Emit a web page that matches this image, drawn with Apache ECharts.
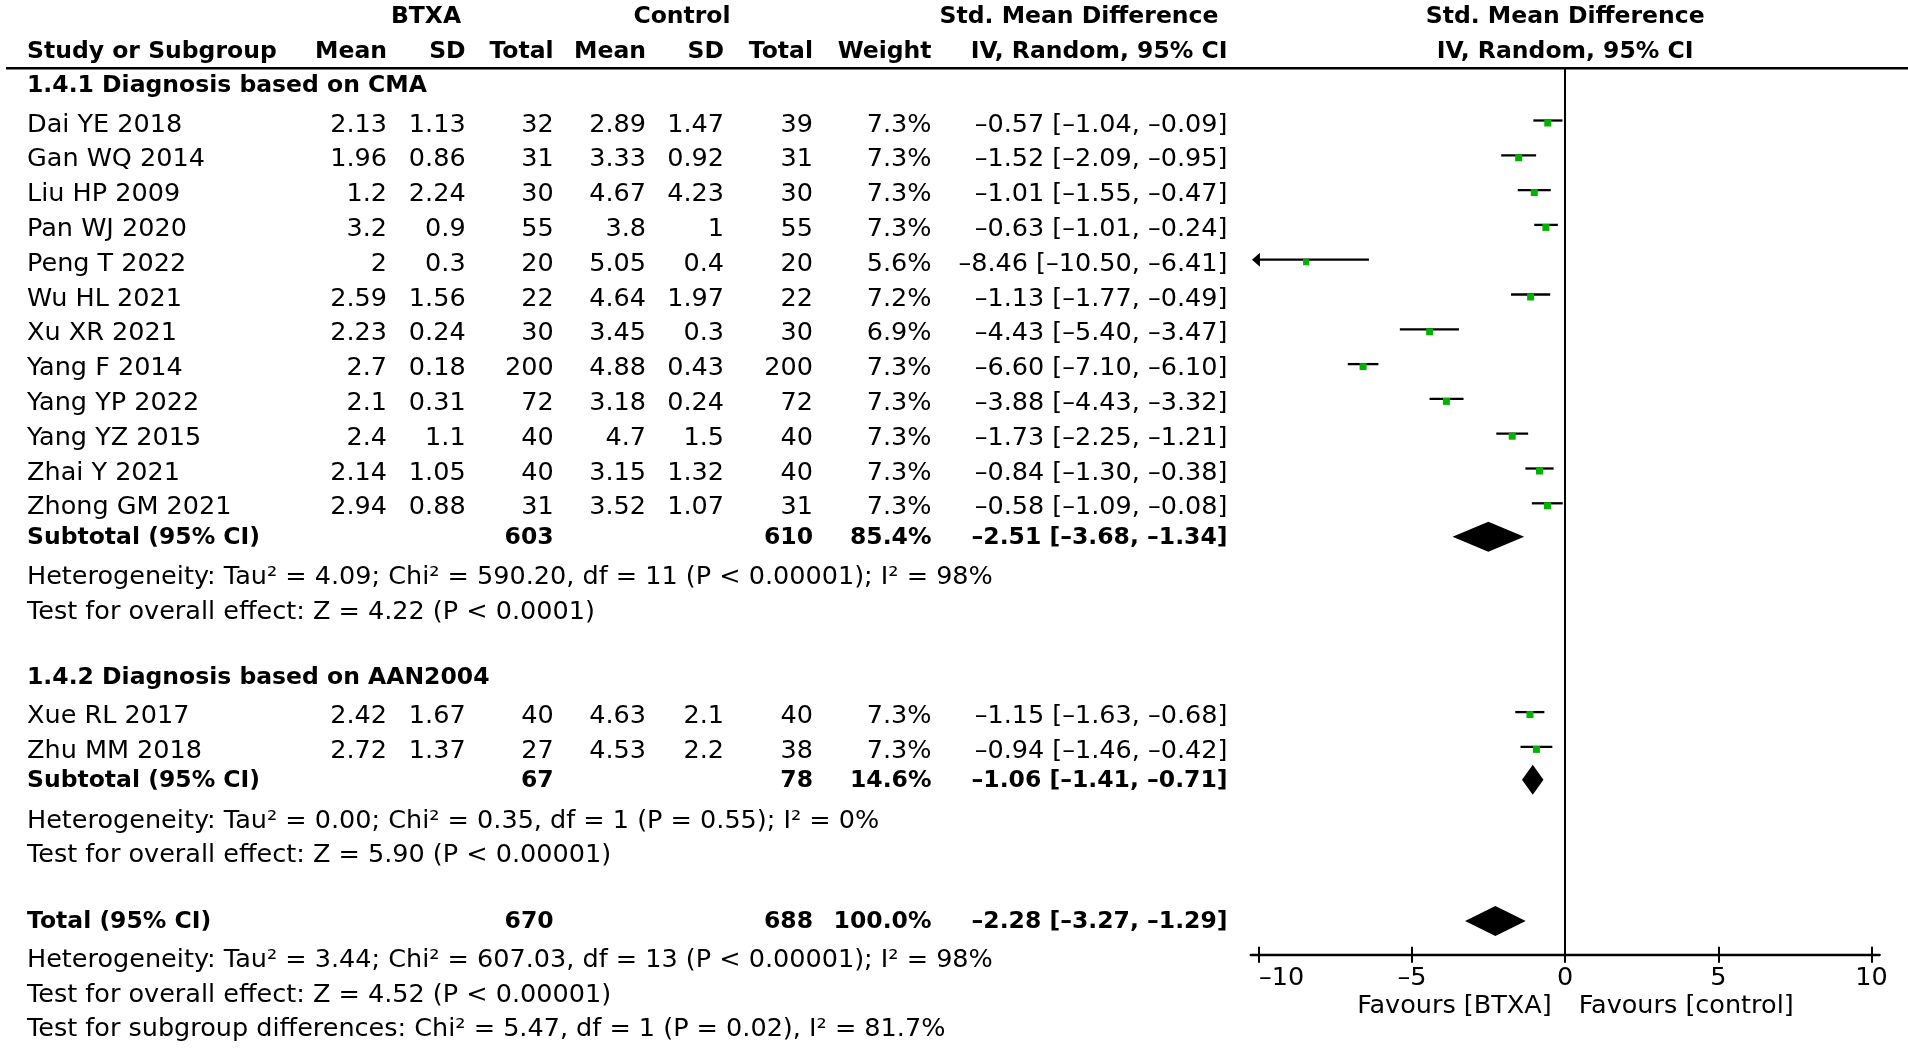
<!DOCTYPE html>
<html lang="en" style="height: 100%">
<head>
    <meta charset="utf-8" />
    <script src="https://cdn.jsdelivr.net/npm/echarts@6/dist/echarts.min.js"></script>
</head>
<body style="height: 100%; margin: 0; background: #fff">
    <div id="container" style="width: 1908px; height: 1049px;"></div>
    <script type="text/javascript">
        // ---- data ----
        const studies = ['Dai YE 2018', 'Gan WQ 2014', 'Liu HP 2009', 'Pan WJ 2020', 'Peng T 2022', 'Wu HL 2021',
            'Xu XR 2021', 'Yang F 2014', 'Yang YP 2022', 'Yang YZ 2015', 'Zhai Y 2021', 'Zhong GM 2021',
            'Xue RL 2017', 'Zhu MM 2018'];
        const btxaMean = [2.13, 1.96, 1.2, 3.2, 2, 2.59, 2.23, 2.7, 2.1, 2.4, 2.14, 2.94, 2.42, 2.72];
        const btxaSD = [1.13, 0.86, 2.24, 0.9, 0.3, 1.56, 0.24, 0.18, 0.31, 1.1, 1.05, 0.88, 1.67, 1.37];
        const btxaTotal = [32, 31, 30, 55, 20, 22, 30, 200, 72, 40, 40, 31, 40, 27];
        const ctrlMean = [2.89, 3.33, 4.67, 3.8, 5.05, 4.64, 3.45, 4.88, 3.18, 4.7, 3.15, 3.52, 4.63, 4.53];
        const ctrlSD = [1.47, 0.92, 4.23, 1, 0.4, 1.97, 0.3, 0.43, 0.24, 1.5, 1.32, 1.07, 2.1, 2.2];
        const ctrlTotal = [39, 31, 30, 55, 20, 22, 30, 200, 72, 40, 40, 31, 40, 38];
        const weight = [7.3, 7.3, 7.3, 7.3, 5.6, 7.2, 6.9, 7.3, 7.3, 7.3, 7.3, 7.3, 7.3, 7.3];
        const smd = [-0.57, -1.52, -1.01, -0.63, -8.46, -1.13, -4.43, -6.60, -3.88, -1.73, -0.84, -0.58, -1.15, -0.94];
        const ciLow = [-1.04, -2.09, -1.55, -1.01, -10.50, -1.77, -5.40, -7.10, -4.43, -2.25, -1.30, -1.09, -1.63, -1.46];
        const ciHigh = [-0.09, -0.95, -0.47, -0.24, -6.41, -0.49, -3.47, -6.10, -3.32, -1.21, -0.38, -0.08, -0.68, -0.42];

        const groupTitles = ['1.4.1 Diagnosis based on CMA', '1.4.2 Diagnosis based on AAN2004'];
        const subBtxaTotal = [603, 67];
        const subCtrlTotal = [610, 78];
        const subWeight = [85.4, 14.6];
        const subSmd = [-2.51, -1.06];
        const subLow = [-3.68, -1.41];
        const subHigh = [-1.34, -0.71];
        const subHet = ['Heterogeneity: Tau² = 4.09; Chi² = 590.20, df = 11 (P < 0.00001); I² = 98%',
            'Heterogeneity: Tau² = 0.00; Chi² = 0.35, df = 1 (P = 0.55); I² = 0%'];
        const subEffect = ['Test for overall effect: Z = 4.22 (P < 0.0001)',
            'Test for overall effect: Z = 5.90 (P < 0.00001)'];

        const total = { btxa: 670, ctrl: 688, weight: 100.0, smd: -2.28, low: -3.27, high: -1.29 };
        const totalNotes = ['Heterogeneity: Tau² = 3.44; Chi² = 607.03, df = 13 (P < 0.00001); I² = 98%',
            'Test for overall effect: Z = 4.52 (P < 0.00001)',
            'Test for subgroup differences: Chi² = 5.47, df = 1 (P = 0.02), I² = 81.7%'];

        const axisTicks = [-10, -5, 0, 5, 10];
        const favours = ['Favours [BTXA]', 'Favours [control]'];

        // ---- layout (pixels / row units) ----
        const ROW0 = 125, ROWH = 34.8;          // y of first study row, row pitch
        const HEADER_Y = 68.3, AXIS_Y = 954.3;
        const PLOT_L = 1250.7, PLOT_R = 1879.7;
        const COL = { name: 27, m1: 387, sd1: 465.6, n1: 553.6, m2: 646, sd2: 724, n2: 813, w: 931.5, ci: 1227.5 };
        const studyRows = [0, 1, 2, 3, 4, 5, 6, 7, 8, 9, 10, 11, 17, 18];
        const groupTitleRows = [-1.12, 15.88];
        const subRows = [11.86, 18.84];
        const hetRows = [13.0, 20.02];
        const effRows = [14.01, 21.0];
        const totalRow = 22.9;
        const totalNoteRows = [24.0, 25.0, 26.0];
        const headRows = [-3.11, -2.11];
        const favoursRow = 25.32;

        const FONT = '"DejaVu Sans"';
        const REG = '25.5px ' + FONT;
        const BOLD = 'bold 23.5px ' + FONT;
        const GREEN = '#00b300';

        const dash = s => s.replace(/-/g, '\u2013');
        const fmtCI = (m, l, h) => dash(m.toFixed(2) + ' [' + l.toFixed(2) + ', ' + h.toFixed(2) + ']');
        const pct = v => v.toFixed(1) + '%';

        // ---- text cells ----
        const cells = [];
        function cell(row, x, text, font, align, plotX) {
            cells.push({ row: row, x: x, text: String(text), font: font, align: align, plotX: plotX });
        }
        cell(headRows[0], 426, 'BTXA', BOLD, 'center');
        cell(headRows[0], 682, 'Control', BOLD, 'center');
        cell(headRows[0], 1079, 'Std. Mean Difference', BOLD, 'center');
        cell(headRows[0], 0, 'Std. Mean Difference', BOLD, 'center', 0);
        cell(headRows[1], COL.name, 'Study or Subgroup', BOLD, 'left');
        [['m1', 'Mean'], ['sd1', 'SD'], ['n1', 'Total'], ['m2', 'Mean'], ['sd2', 'SD'], ['n2', 'Total'],
            ['w', 'Weight'], ['ci', 'IV, Random, 95% CI']].forEach(function (c) {
            cell(headRows[1], COL[c[0]], c[1], BOLD, 'right');
        });
        cell(headRows[1], 0, 'IV, Random, 95% CI', BOLD, 'center', 0);

        groupTitles.forEach(function (t, g) {
            cell(groupTitleRows[g], COL.name, t, BOLD, 'left');
        });
        studies.forEach(function (s, i) {
            const r = studyRows[i];
            cell(r, COL.name, s, REG, 'left');
            cell(r, COL.m1, btxaMean[i], REG, 'right');
            cell(r, COL.sd1, btxaSD[i], REG, 'right');
            cell(r, COL.n1, btxaTotal[i], REG, 'right');
            cell(r, COL.m2, ctrlMean[i], REG, 'right');
            cell(r, COL.sd2, ctrlSD[i], REG, 'right');
            cell(r, COL.n2, ctrlTotal[i], REG, 'right');
            cell(r, COL.w, pct(weight[i]), REG, 'right');
            cell(r, COL.ci, fmtCI(smd[i], ciLow[i], ciHigh[i]), REG, 'right');
        });
        subRows.forEach(function (r, g) {
            cell(r, COL.name, 'Subtotal (95% CI)', BOLD, 'left');
            cell(r, COL.n1, subBtxaTotal[g], BOLD, 'right');
            cell(r, COL.n2, subCtrlTotal[g], BOLD, 'right');
            cell(r, COL.w, pct(subWeight[g]), BOLD, 'right');
            cell(r, COL.ci, fmtCI(subSmd[g], subLow[g], subHigh[g]), BOLD, 'right');
            cell(hetRows[g], COL.name, subHet[g], REG, 'left');
            cell(effRows[g], COL.name, subEffect[g], REG, 'left');
        });
        cell(totalRow, COL.name, 'Total (95% CI)', BOLD, 'left');
        cell(totalRow, COL.n1, total.btxa, BOLD, 'right');
        cell(totalRow, COL.n2, total.ctrl, BOLD, 'right');
        cell(totalRow, COL.w, pct(total.weight), BOLD, 'right');
        cell(totalRow, COL.ci, fmtCI(total.smd, total.low, total.high), BOLD, 'right');
        totalNotes.forEach(function (t, k) {
            cell(totalNoteRows[k], COL.name, t, REG, 'left');
        });
        cell(favoursRow, -13.5, favours[0], REG, 'right', 0);
        cell(favoursRow, 13.5, favours[1], REG, 'left', 0);

        // ---- chart ----
        var dom = document.getElementById('container');
        var myChart = echarts.init(dom, null, { renderer: 'canvas' });

        // axis line runs a little past the outer ticks
        const xMin = -10.27, xMax = 10.27;
        const yMin = (HEADER_Y - ROW0) / ROWH, yMax = (AXIS_Y - ROW0) / ROWH;

        const studyData = studies.map((s, i) => [smd[i], ciLow[i], ciHigh[i], studyRows[i], weight[i]]);
        const diamondData = subRows.map((r, g) => [subSmd[g], subLow[g], subHigh[g], r])
            .concat([[total.smd, total.low, total.high, totalRow]]);

        var option = {
            animation: false,
            backgroundColor: '#fff',
            grid: {
                left: PLOT_L, right: 1908 - PLOT_R, top: HEADER_Y, bottom: 1049 - AXIS_Y,
                containLabel: false, outerBoundsMode: 'none'
            },
            graphic: [{
                type: 'line',
                shape: { x1: 6, y1: HEADER_Y, x2: 1908, y2: HEADER_Y },
                style: { stroke: '#000', lineWidth: 2.5 },
                silent: true
            }],
            xAxis: [{
                type: 'value', min: xMin, max: xMax, position: 'bottom',
                axisLine: { show: true, onZero: false, lineStyle: { color: '#000', width: 2.3 } },
                axisTick: { show: true, inside: false, length: 8.5, customValues: axisTicks,
                    lineStyle: { color: '#000', width: 2 } },
                axisLabel: { show: true, customValues: axisTicks, margin: 11, color: '#000',
                    fontFamily: 'DejaVu Sans', fontSize: 25.5, alignMinLabel: 'left',
                    formatter: v => dash(String(v)) },
                splitLine: { show: false }
            }, {
                type: 'value', min: xMin, max: xMax, position: 'bottom',
                axisLine: { show: false, onZero: false },
                axisTick: { show: true, inside: true, length: 7.5, customValues: axisTicks,
                    lineStyle: { color: '#000', width: 2 } },
                axisLabel: { show: false },
                splitLine: { show: false }
            }],
            yAxis: {
                type: 'value', inverse: true, min: yMin, max: yMax,
                axisLine: { show: true, onZero: true, lineStyle: { color: '#000', width: 2 } },
                axisTick: { show: false },
                axisLabel: { show: false },
                splitLine: { show: false }
            },
            series: [{
                // individual studies: CI whisker + weighted square
                type: 'custom',
                clip: false,
                silent: true,
                data: studyData,
                renderItem: function (params, api) {
                    const y = api.coord([0, api.value(3)])[1];
                    const lo = api.value(1), hi = api.value(2);
                    const x0 = api.coord([Math.max(lo, -10), 0])[0];
                    const x1 = api.coord([Math.min(hi, 10), 0])[0];
                    const xc = api.coord([api.value(0), 0])[0];
                    const s = 7 * Math.sqrt(api.value(4) / 7.3);
                    const ly = y - 4.5;
                    const children = [{
                        type: 'line',
                        shape: { x1: x0, y1: ly, x2: x1, y2: ly },
                        style: { stroke: '#000', lineWidth: 2.3 }
                    }, {
                        type: 'rect',
                        shape: { x: xc - s / 2, y: y - 2 - s / 2, width: s, height: s },
                        style: { fill: GREEN }
                    }];
                    if (lo < -10) {
                        children.push({
                            type: 'polygon',
                            shape: { points: [[x0 - 7, ly], [x0 + 1, ly - 7], [x0 + 1, ly + 7]] },
                            style: { fill: '#000' }
                        });
                    }
                    return { type: 'group', children: children };
                }
            }, {
                // pooled estimates: diamonds
                type: 'custom',
                clip: false,
                silent: true,
                data: diamondData,
                renderItem: function (params, api) {
                    const y = api.coord([0, api.value(3)])[1] - 1;
                    const xl = api.coord([api.value(1), 0])[0];
                    const xh = api.coord([api.value(2), 0])[0];
                    const xc = api.coord([api.value(0), 0])[0];
                    return {
                        type: 'polygon',
                        shape: { points: [[xl, y], [xc, y - 15], [xh, y], [xc, y + 15]] },
                        style: { fill: '#000' }
                    };
                }
            }, {
                // table text, placed on the shared row scale
                type: 'custom',
                clip: false,
                silent: true,
                data: cells.map(c => [0, c.row]),
                renderItem: function (params, api) {
                    const c = cells[params.dataIndex];
                    const y = api.coord([0, api.value(1)])[1];
                    const x = c.plotX != null ? api.coord([c.plotX, 0])[0] + c.x : c.x;
                    return {
                        type: 'text',
                        style: {
                            text: c.text, x: x, y: y, font: c.font, fill: '#000',
                            align: c.align, verticalAlign: 'middle',
                            textAlign: c.align, textVerticalAlign: 'middle'
                        }
                    };
                }
            }]
        };

        if (option && typeof option === 'object') {
            myChart.setOption(option);
        }

        window.addEventListener('resize', myChart.resize);
    </script>
</body>
</html>
